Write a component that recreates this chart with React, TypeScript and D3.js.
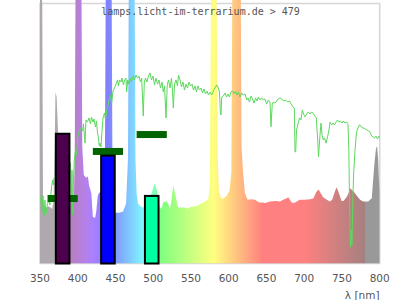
import React from "react";
import * as d3 from "d3";

// ---- data ----
const title = "lamps.licht-im-terrarium.de > 479";
const xTicks = [350, 400, 450, 500, 550, 600, 650, 700, 750, 800];

// lamp spectrum [wavelength nm, relative intensity %]
const lampSpectrum: [number, number][] = [
  [350, 102], [352.5, 102], [353, 100], [354, 22], [358, 21.5], [362, 22], [366, 21],
  [368, 24], [369.5, 45], [370.5, 66], [372, 64], [374, 50], [377, 38], [381, 30],
  [386, 26], [390, 25], [393, 24.5], [395, 26], [396, 40], [397, 102], [405, 102],
  [406, 45], [408, 34], [411, 33], [413.5, 33.5], [415, 30], [418, 27], [420, 18],
  [423, 17.5], [424.5, 20], [426.5, 26], [428, 27], [432, 28], [436, 40], [437, 102],
  [445, 102], [446, 35], [448, 22], [450, 19.5], [455, 19.5], [460, 20], [464, 23],
  [466.5, 40], [467.5, 102], [475.5, 102], [476.5, 40], [478, 27], [480, 23], [483, 22],
  [486, 21.5], [490, 22], [495, 24], [500, 29], [502, 31], [505, 28], [508, 22],
  [511, 21], [513, 23.5], [517, 24], [520, 23], [522, 21], [524, 24], [526.5, 30],
  [529, 27], [531, 24], [533, 21.5], [540, 21.5], [546, 21.2], [550, 21.8], [557, 22],
  [562, 22.8], [566, 23.5], [570, 24], [573, 25], [575, 30], [576.5, 102], [584, 102],
  [585.5, 40], [587, 28], [590, 25], [593, 25], [597, 26], [601, 28], [603.5, 35],
  [604.7, 102], [616, 102], [617, 45], [619, 35], [621.5, 27], [625, 24.5], [630, 24.7],
  [635, 24.5], [640, 23.5], [645, 23.5], [648, 23.3], [655, 23.8], [662, 24], [668, 23.8],
  [672, 24.5], [676, 25], [679, 25.5], [681, 24.5], [684, 23.3], [688, 23.5], [694, 24.5],
  [700, 24.5], [708, 24.7], [712, 25], [716, 27.5], [719, 28.5], [721, 27.5], [725, 25.5],
  [730, 24.5], [734, 23.8], [737, 24.5], [741, 28], [743, 29.3], [746, 27], [749.5, 24],
  [752, 24], [756, 25.5], [758, 26.5], [761, 28.9], [764, 28], [766, 27.5], [770, 26],
  [774, 24.5], [778, 23.8], [782, 23.8], [785, 23.8], [787, 24.5], [789.5, 25], [791, 31],
  [793, 38.5], [795, 44], [796.5, 45.2], [798, 40], [799, 32], [800, 27.6],
];

// daylight reference spectrum [wavelength nm, relative intensity %]
const daylightSpectrum: [number, number][] = [
  [350.9, 23.3], [351.7, 26.3], [352.6, 19.8], [354, 26], [355.3, 18.3], [356.6, 24.4],
  [357.9, 19], [359.7, 22.5], [361.3, 24.4], [363.2, 22.5], [365, 28.3], [366.6, 32.1],
  [367.9, 30.2], [368.5, 32.9], [373.8, 34], [381.8, 37.9], [390.4, 38.7], [391.3, 24.4],
  [392.4, 35.9], [393.4, 18.7], [394.4, 32.1], [395.4, 39.8], [397, 43.7], [398.4, 41.7],
  [399.7, 47.5], [401, 50.2], [403, 51.3], [405, 52.1], [406.6, 51], [407.6, 53.7],
  [409.6, 46.3], [410.9, 55.2], [412.9, 54.4], [414.9, 56], [416.9, 53.7], [418.2, 56.3],
  [420.2, 54.4], [421.5, 55.6], [423.5, 52.5], [424.8, 54.8], [426.2, 50.2], [427.2, 48.7],
  [428.6, 45.2], [429.5, 46.3], [430.8, 44.8], [431.7, 49.4], [433.5, 56], [435.4, 57.9],
  [436.8, 55.2], [438.4, 59], [440.1, 60.6], [441.4, 62.9], [443.4, 64.8], [445, 61.7],
  [446.7, 66.3], [448.7, 67.5], [450.7, 69], [452.7, 70.6], [454, 68.3], [455.3, 70.6],
  [457.3, 69.8], [458.6, 71.3], [460.6, 68.7], [462, 70.6], [463.9, 71.3], [464.8, 66],
  [466.2, 70.6], [467.9, 69], [469.9, 71.3], [471.2, 69.8], [473.2, 72.1], [475.2, 70.6],
  [477.2, 72.5], [479.2, 71.3], [481.1, 72.1], [483.1, 69.8], [484.7, 71.3], [486.8, 56.7],
  [488.2, 69.8], [489.8, 71.3], [491.7, 69.8], [493.7, 72.1], [495.7, 73.3], [497.7, 70.6],
  [499.7, 72.1], [501.7, 68.7], [503.7, 71.3], [505.7, 69], [507.6, 70.6], [509.6, 67.5],
  [511.6, 69.8], [513.3, 66], [515, 68.3], [516.9, 56], [518.6, 68.7], [520.2, 70.6],
  [522.2, 67.5], [524.2, 71.3], [525.5, 66.7], [526.6, 59.8], [528.2, 69], [530.2, 70.6],
  [532.1, 68.3], [533.5, 72.5], [535.5, 70.6], [537.4, 67.9], [539.4, 69.8], [541.4, 66.7],
  [543.4, 69], [545.4, 67.5], [547.4, 69.8], [549.4, 68.3], [551.4, 69], [553.3, 66.7],
  [555.3, 68.3], [557.3, 66], [559.3, 68.3], [561.3, 66.7], [563.3, 67.5], [565.3, 65.6],
  [567.3, 67.1], [569.2, 65.2], [571.2, 66.3], [573.2, 64.8], [575.2, 65.9], [577.5, 64.8],
  [579.6, 66.3], [581.8, 67.5], [584.1, 68.7], [586.2, 67.5], [587.8, 65.9], [588.9, 58.3],
  [589.8, 57.1], [590.7, 64], [592.8, 64.4], [595.1, 65.6], [597.1, 64], [599, 65.2],
  [601, 64], [603, 66], [605.3, 66.3], [607, 65.2], [609, 66.3], [611, 64.8], [612.9, 66],
  [614.9, 64], [617.2, 65.6], [619.3, 64.8], [621.6, 65.2], [623.8, 62.9], [625.5, 63.7],
  [627.5, 62.1], [629.5, 64.4], [631.5, 63.3], [633.5, 61.7], [635.5, 63.7], [637.5, 62.5],
  [639.4, 64], [641.4, 62.9], [643.7, 63.7], [645.8, 62.9], [648.1, 63.3], [650.3, 61.3],
  [652.4, 62.9], [654.7, 62.1], [656, 52.6], [657.7, 61.3], [659.1, 62.1], [661.3, 61.7],
  [663.6, 62.5], [665.7, 63.3], [667.9, 63.7], [670.2, 63.3], [672.6, 62.5], [675.2, 62.9],
  [677.9, 62.1], [680.5, 62.5], [683.4, 61], [685.1, 60.2], [686.9, 59.8], [687.8, 43],
  [688.7, 42.9], [689.8, 51.3], [691.8, 53.7], [693.8, 56], [695.7, 55.2], [697.5, 59],
  [699.1, 57.5], [701.1, 56.4], [703.3, 57.5], [705.4, 58.3], [707.7, 57.5], [709.9, 58.3],
  [712.3, 57.5], [714.3, 56.7], [716, 56], [717, 51.3], [717.9, 47.5], [718.9, 41.1],
  [720, 45.6], [720.9, 49.4], [722.2, 54], [723.6, 49.4], [725.3, 47.5], [726.9, 48.3],
  [728.9, 46.3], [730.9, 48.7], [732, 50.2], [733.2, 52.1], [734.2, 54.4], [736.4, 53.3],
  [738.1, 54], [740.1, 53.3], [742.1, 54.4], [744.1, 55.2], [746.1, 54.4], [748.1, 54.8],
  [750.1, 54], [752, 54.8], [754, 54], [756, 54.4], [758, 53.7], [759.1, 43.7], [760, 24.4],
  [761.1, 6.3], [762.2, 12.9], [763.3, 7.1], [764.4, 24.4], [765.4, 34], [767.3, 43.7],
  [769.3, 50.6], [771.3, 52.1], [773.2, 53.3], [775.2, 52.9], [777.2, 52.1], [779.2, 52.1],
  [781.2, 51.7], [783.2, 51.3], [785.2, 51], [787.2, 50.6], [789.4, 49], [791.1, 48.7],
  [793.1, 48.3], [795.1, 49], [797.1, 47.9], [799.1, 49], [800, 48.3],
];

// LED bars
const barCenters = [380, 440, 498];
const barWidthNm = 18;
const barValues = [49.9, 41.5, 26];
const barColors = ["#4d004d", "#0000ff", "#00ffa2"];
// target markers
const markerCenters = [380, 440, 498];
const markerHalfWidthNm = 20;
const markerValues = [25, 43.1, 49.6];

// ---- helpers ----
function spectralColor(l: number): string {
  if (l < 380) return "rgb(175,168,175)";
  if (l >= 780) return "rgb(153,153,153)";
  let r = 0, g = 0, b = 0;
  if (l < 440) { r = (440 - l) / 60; b = 1; }
  else if (l < 490) { g = (l - 440) / 50; b = 1; }
  else if (l < 510) { g = 1; b = (510 - l) / 20; }
  else if (l < 580) { r = (l - 510) / 70; g = 1; }
  else if (l < 645) { r = 1; g = (645 - l) / 65; }
  else { r = 1; }
  let f = 1;
  if (l < 420) f = 0.3 + (0.7 * (l - 380)) / 40;
  else if (l > 700) f = 0.3 + (0.7 * (780 - l)) / 80;
  const c = (v: number) => Math.round(128 + 127 * v * f);
  return `rgb(${c(r)},${c(g)},${c(b)})`;
}

export default function App() {
  const width = 400, height = 300;
  const x = d3.scaleLinear().domain([350, 800]).range([40, 379.7]);
  const y = d3.scaleLinear().domain([0, 100]).range([263.5, 3.5]);

  const area = d3.area<[number, number]>()
    .x((d) => x(d[0]))
    .y0(y(0))
    .y1((d) => y(d[1]));
  const line = d3.line<[number, number]>()
    .x((d) => x(d[0]))
    .y((d) => y(d[1]));

  const stopsL: number[] = [];
  for (let l = 350; l <= 800; l += 2) {
    stopsL.push(l);
    if (l === 378) stopsL.push(379.99);
    if (l === 778) stopsL.push(779.99);
  }
  const stops = stopsL.map((l) => ({ off: (l - 350) / 450, color: spectralColor(l) }));

  return (
    <svg width={width} height={height} style={{ position: "absolute", left: 0, top: 0, background: "#fff" }}>
      <defs>
        <linearGradient id="spec" gradientUnits="userSpaceOnUse" x1={x(350)} x2={x(800)} y1={0} y2={0}>
          {stops.map((s, i) => (
            <stop key={i} offset={s.off} stopColor={s.color} />
          ))}
        </linearGradient>
        <clipPath id="clipAll">
          <rect x={x(350)} y={0} width={x(800) - x(350)} height={y(0)} />
        </clipPath>
      </defs>
      <rect x={x(350)} y={y(100)} width={x(800) - x(350)} height={y(0) - y(100)} fill="none" stroke="#d6d6d6" strokeWidth={1.5} />
      <g clipPath="url(#clipAll)">
        <path d={area(lampSpectrum) || ""} fill="url(#spec)" />
        <path d={line(daylightSpectrum) || ""} fill="none" stroke="#5cd85c" strokeWidth={1} />
      </g>
      {markerCenters.map((c, i) => (
        <rect key={"m" + i} x={x(c - markerHalfWidthNm)} y={y(markerValues[i]) - 3.5}
          width={x(c + markerHalfWidthNm) - x(c - markerHalfWidthNm)} height={7} fill="#006400" />
      ))}
      {barCenters.map((c, i) => (
        <rect key={"b" + i} x={x(c - barWidthNm / 2)} y={y(barValues[i])}
          width={x(c + barWidthNm / 2) - x(c - barWidthNm / 2)} height={y(0) - y(barValues[i])}
          fill={barColors[i]} stroke="#000" strokeWidth={2} />
      ))}
      {xTicks.map((t) => (
        <text key={t} x={x(t)} y={281.5} textAnchor="middle" fontFamily="DejaVu Sans" fontSize={10.5} fill="#555">{t}</text>
      ))}
      <text x={379.5} y={298.5} textAnchor="end" fontFamily="DejaVu Sans" fontSize={10.5} fill="#555">λ [nm]</text>
      <text x={200.5} y={14.5} textAnchor="middle" fontFamily="DejaVu Sans Mono" fontSize={10} fill="#555">{title}</text>
    </svg>
  );
}
